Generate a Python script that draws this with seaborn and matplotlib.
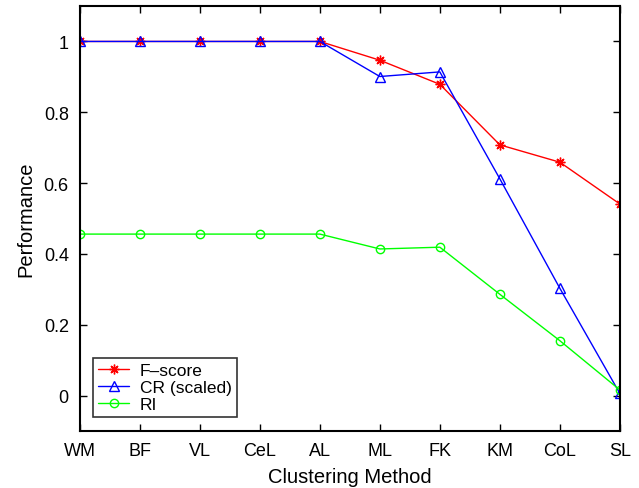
import seaborn as sns
import matplotlib.pyplot as plt
import numpy as np
import pandas as pd

methods = ["WM", "BF", "VL", "CeL", "AL", "ML", "FK", "KM", "CoL", "SL"]
fscore = [1.0, 1.0, 1.0, 1.0, 1.0, 0.947, 0.879, 0.708, 0.659, 0.541]
cr_scaled = [1.0, 1.0, 1.0, 1.0, 1.0, 0.901, 0.914, 0.612, 0.303, 0.006]
ri = [0.456, 0.456, 0.456, 0.456, 0.456, 0.414, 0.419, 0.286, 0.155, 0.016]

sns.set_style("ticks", {"axes.edgecolor": "black", "text.color": "black",
                        "axes.labelcolor": "black", "xtick.color": "black",
                        "ytick.color": "black"})
plt.rcParams['font.family'] = ['Liberation Sans', 'DejaVu Sans']

fig = plt.figure(figsize=(6.39, 4.89), dpi=100)
ax = fig.add_axes([0.125, 0.1166, 0.845, 0.869])

pos = np.arange(1, len(methods) + 1)
series = [
    ("F\u2013score", fscore, (1, 0, 0), (8, 2, 0), 7),
    ("CR (scaled)", cr_scaled, (0, 0, 1), "^", 7),
    ("RI", ri, (0, 1, 0), "o", 6),
]
for name, vals, col, mk, ms in series:
    df = pd.DataFrame({"x": pos, "y": vals})
    sns.lineplot(data=df, x="x", y="y", ax=ax, color=col, lw=1.0,
                 marker=mk, markersize=ms, markerfacecolor="none",
                 markeredgecolor=col, markeredgewidth=1.0, label=name)

ax.set_xlim(1, 10)
ax.set_ylim(-0.1, 1.1)
ax.set_xticks(pos)
ax.set_xticklabels(methods)
ax.set_yticks([0, 0.2, 0.4, 0.6, 0.8, 1.0])
ax.set_yticklabels(["0", "0.2", "0.4", "0.6", "0.8", "1"])
ax.tick_params(direction="in", top=True, right=True, length=5, width=1,
               labelsize=13, pad=8, colors="black")
for s in ax.spines.values():
    s.set_linewidth(1.5)
    s.set_visible(True)
ax.set_xlabel("Clustering Method", fontsize=14.5, labelpad=6)
ax.set_ylabel("Performance", fontsize=14.5, labelpad=6)

leg = ax.legend(loc="lower left", bbox_to_anchor=(0.024, 0.033), fontsize=12.5,
                handlelength=1.8, frameon=True, fancybox=False, borderaxespad=0,
                labelspacing=0.1, borderpad=0.3, handletextpad=0.6)
leg.get_frame().set_edgecolor("black")
leg.get_frame().set_linewidth(1.2)

fig.savefig("out.png", dpi=100)
